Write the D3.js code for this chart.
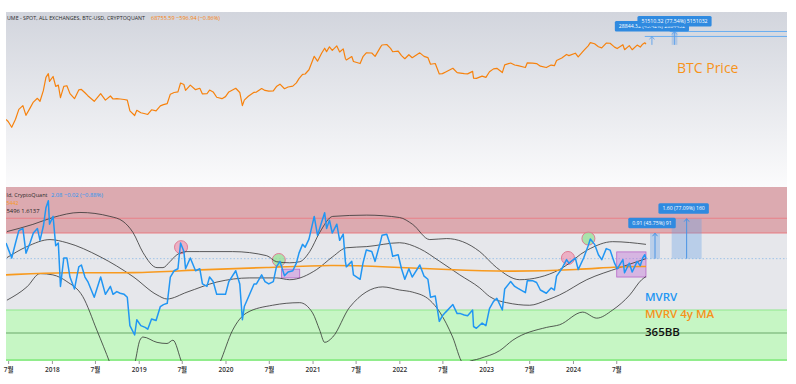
<!DOCTYPE html>
<html>
<head>
<meta charset="utf-8">
<script src="https://cdn.jsdelivr.net/npm/d3@7"></script>
<style>
  body { margin: 0; background: #fff; }
  svg { display: block; font-family: "Open Sans", "Noto Sans CJK KR", sans-serif; }
</style>
</head>
<body>
<div id="chart"></div>
<script>
// ---- data ----
const btcPrice = [
  ["2017-06-22",2700],["2017-07-01",2480],["2017-07-16",1930],["2017-08-01",2730],["2017-08-15",4170],["2017-09-01",4900],["2017-09-14",3230],["2017-10-01",4400],["2017-10-15",5700],["2017-11-01",6700],["2017-11-12",5900],["2017-11-26",9300],["2017-12-07",16500],["2017-12-17",19300],["2017-12-22",13800],
  ["2018-01-06",17100],["2018-01-17",11200],["2018-01-28",11800],["2018-02-06",6900],["2018-02-20",11200],["2018-03-05",11500],["2018-03-18",8200],["2018-04-06",6600],["2018-04-24",9600],["2018-05-05",9800],["2018-05-20",8500],["2018-06-01",7500],["2018-06-28",5900],["2018-07-25",8200],["2018-08-14",6200],["2018-09-04",7400],["2018-09-15",6500],["2018-10-01",6600],["2018-10-15",6500],["2018-11-01",6370],["2018-11-14",6200],["2018-11-25",3900],["2018-12-15",3200],["2018-12-24",4000],
  ["2019-01-10",3600],["2019-01-28",3450],["2019-02-08",3350],["2019-02-24",4100],["2019-03-15",3900],["2019-04-02",4850],["2019-04-15",5100],["2019-05-01",5350],["2019-05-14",8000],["2019-05-30",8600],["2019-06-15",8800],["2019-06-26",12900],["2019-07-10",12100],["2019-07-17",9400],["2019-08-06",11800],["2019-08-28",9700],["2019-09-15",10300],["2019-09-26",8100],["2019-10-15",8150],["2019-10-26",9550],["2019-11-10",8800],["2019-11-25",7000],["2019-12-17",6600],
  ["2020-01-01",7200],["2020-01-15",8800],["2020-02-13",10300],["2020-03-01",8600],["2020-03-12",4900],["2020-03-20",6200],["2020-04-06",7300],["2020-04-30",8650],["2020-05-10",8750],["2020-06-01",10200],["2020-06-15",9400],["2020-07-01",9100],["2020-07-20",9200],["2020-08-02",11100],["2020-08-17",12300],["2020-09-05",10100],["2020-09-20",10900],["2020-10-10",11300],["2020-10-25",13000],["2020-11-05",15600],["2020-11-20",18700],["2020-12-01",19000],["2020-12-17",22800],
  ["2021-01-08",40600],["2021-01-22",33000],["2021-02-08",46200],["2021-02-21",57500],["2021-03-01",49600],["2021-03-13",61200],["2021-03-25",52300],["2021-04-13",63500],["2021-04-25",49000],["2021-05-10",56000],["2021-05-19",37000],["2021-05-23",34700],["2021-06-15",40200],["2021-06-22",32500],["2021-07-20",29800],["2021-08-01",39900],["2021-08-15",47000],["2021-09-07",46800],["2021-09-21",40600],["2021-10-15",61500],["2021-10-20",66000],["2021-11-09",67500],["2021-11-25",57200],["2021-12-04",49400],["2021-12-27",50700],
  ["2022-01-10",41800],["2022-01-24",36600],["2022-02-10",43500],["2022-02-24",38300],["2022-03-28",47100],["2022-04-15",40500],["2022-05-01",38500],["2022-05-12",28900],["2022-06-01",29800],["2022-06-18",19000],["2022-07-01",19300],["2022-07-15",20800],["2022-08-14",24300],["2022-09-01",20100],["2022-09-15",19700],["2022-10-01",19300],["2022-10-15",19100],["2022-11-05",21300],["2022-11-09",15900],["2022-11-21",15800],["2022-12-15",17400],["2022-12-31",16500],
  ["2023-01-15",20900],["2023-02-01",23700],["2023-02-15",24300],["2023-03-10",20200],["2023-03-20",28200],["2023-04-14",30500],["2023-05-01",28000],["2023-05-15",27200],["2023-06-15",25100],["2023-06-23",30700],["2023-07-15",30300],["2023-08-01",29700],["2023-08-17",26600],["2023-09-11",25100],["2023-10-01",27900],["2023-10-15",27200],["2023-10-24",33900],["2023-11-15",37800],["2023-12-05",44000],["2023-12-15",41900],
  ["2024-01-11",46400],["2024-01-23",39500],["2024-02-15",51800],["2024-03-05",63800],["2024-03-14",73100],["2024-04-01",69700],["2024-04-17",61300],["2024-05-01",58300],["2024-05-20",71400],["2024-06-05",71100],["2024-06-24",60300],["2024-07-05",56700],["2024-07-29",66800],["2024-08-05",54000],["2024-08-25",64200],["2024-09-06",53900],["2024-09-27",65800],["2024-10-10",60300],["2024-10-20",68400],["2024-10-29",72700],["2024-11-03",68755.59]
];

const mvrv = [
  ["2017-06-22",2.6],["2017-07-01",2.4],["2017-07-16",2.1],["2017-08-01",2.6],["2017-08-15",3.1],["2017-09-01",3.2],["2017-09-14",2.25],["2017-10-01",2.6],["2017-10-15",3.0],["2017-11-01",3.2],["2017-11-12",2.7],["2017-11-26",3.3],["2017-12-07",4.3],["2017-12-17",4.75],["2017-12-22",3.4],
  ["2018-01-06",3.8],["2018-01-17",2.5],["2018-01-28",2.6],["2018-02-06",1.4],["2018-02-20",2.1],["2018-03-05",2.1],["2018-03-18",1.6],["2018-04-06",1.35],["2018-04-24",1.85],["2018-05-05",1.9],["2018-05-20",1.6],["2018-06-01",1.5],["2018-06-28",1.2],["2018-07-25",1.6],["2018-08-14",1.25],["2018-09-04",1.4],["2018-09-15",1.25],["2018-10-01",1.3],["2018-10-15",1.27],["2018-11-01",1.25],["2018-11-14",1.2],["2018-11-25",0.8],["2018-12-15",0.7],["2018-12-24",0.87],
  ["2019-01-10",0.8],["2019-01-28",0.78],["2019-02-08",0.76],["2019-02-24",0.88],["2019-03-15",0.86],["2019-04-02",1.05],["2019-04-15",1.08],["2019-05-01",1.1],["2019-05-14",1.6],["2019-05-30",1.75],["2019-06-15",1.8],["2019-06-26",2.6],["2019-07-10",2.3],["2019-07-17",1.8],["2019-08-06",2.1],["2019-08-28",1.75],["2019-09-15",1.8],["2019-09-26",1.45],["2019-10-15",1.4],["2019-10-26",1.6],["2019-11-10",1.5],["2019-11-25",1.25],["2019-12-17",1.25],
  ["2020-01-01",1.25],["2020-01-15",1.5],["2020-02-13",1.75],["2020-03-01",1.45],["2020-03-12",0.87],["2020-03-20",1.05],["2020-04-06",1.2],["2020-04-30",1.45],["2020-05-10",1.45],["2020-06-01",1.65],["2020-06-15",1.5],["2020-07-01",1.45],["2020-07-20",1.5],["2020-08-02",1.85],["2020-08-17",2.0],["2020-09-05",1.63],["2020-09-20",1.72],["2020-10-10",1.75],["2020-10-25",1.95],["2020-11-05",2.25],["2020-11-20",2.55],["2020-12-01",2.45],["2020-12-17",2.75],
  ["2021-01-08",3.8],["2021-01-22",2.9],["2021-02-08",3.5],["2021-02-21",4.0],["2021-03-01",3.2],["2021-03-13",3.6],["2021-03-25",3.0],["2021-04-13",3.4],["2021-04-25",2.7],["2021-05-10",2.95],["2021-05-19",2.0],["2021-05-23",1.85],["2021-06-15",2.0],["2021-06-22",1.65],["2021-07-20",1.55],["2021-08-01",1.95],["2021-08-15",2.35],["2021-09-07",2.3],["2021-09-21",2.0],["2021-10-15",2.7],["2021-10-20",2.9],["2021-11-09",2.95],["2021-11-25",2.5],["2021-12-04",2.15],["2021-12-27",2.2],
  ["2022-01-10",1.8],["2022-01-24",1.55],["2022-02-10",1.8],["2022-02-24",1.6],["2022-03-28",1.9],["2022-04-15",1.62],["2022-05-01",1.55],["2022-05-12",1.2],["2022-06-01",1.22],["2022-06-18",0.85],["2022-07-01",0.92],["2022-07-15",0.97],["2022-08-14",1.08],["2022-09-01",0.95],["2022-09-15",0.95],["2022-10-01",0.93],["2022-10-15",0.92],["2022-11-05",1.0],["2022-11-09",0.79],["2022-11-21",0.77],["2022-12-15",0.83],["2022-12-31",0.8],
  ["2023-01-15",1.02],["2023-02-01",1.13],["2023-02-15",1.18],["2023-03-10",1.0],["2023-03-20",1.35],["2023-04-14",1.5],["2023-05-01",1.4],["2023-05-15",1.36],["2023-06-15",1.28],["2023-06-23",1.52],["2023-07-15",1.52],["2023-08-01",1.48],["2023-08-17",1.33],["2023-09-11",1.27],["2023-10-01",1.37],["2023-10-15",1.33],["2023-10-24",1.62],["2023-11-15",1.8],["2023-12-05",2.05],["2023-12-15",1.95],
  ["2024-01-11",2.1],["2024-01-23",1.78],["2024-02-15",2.1],["2024-03-05",2.5],["2024-03-14",2.75],["2024-04-01",2.55],["2024-04-17",2.2],["2024-05-01",2.05],["2024-05-20",2.4],["2024-06-05",2.35],["2024-06-24",1.95],["2024-07-05",1.8],["2024-07-29",2.05],["2024-08-05",1.7],["2024-08-25",1.95],["2024-09-06",1.72],["2024-09-27",2.0],["2024-10-10",1.88],["2024-10-20",2.1],["2024-10-29",2.2],["2024-11-03",2.08]
];

const mvrvMA4y = [
  ["2017-06-22",1.65],["2018-03-05",1.72],["2018-12-08",1.68],["2019-09-15",1.78],["2020-06-22",1.83],["2021-03-27",1.91],["2021-11-10",1.85],["2022-07-19",1.78],["2023-04-23",1.72],["2024-02-11",1.78],["2024-06-16",1.85],["2024-11-03",1.86]
];

const bbUpper = [
  ["2017-06-26",3.06],["2017-10-13",3.39],["2018-01-05",3.74],["2018-04-29",4.02],["2018-09-02",3.80],["2018-10-27",3.54],["2018-12-08",3.02],["2019-01-19",2.27],["2019-03-19",1.83],["2019-04-13",1.83],["2019-05-12",1.99],["2019-06-11",2.20],["2019-07-23",2.30],["2019-09-15",2.30],["2020-01-31",2.30],["2020-06-22",2.17],["2020-08-03",1.99],["2020-09-27",1.96],["2020-11-08",1.99],["2020-12-20",2.30],["2021-01-31",3.02],["2021-03-27",3.80],["2021-08-17",3.87],["2022-01-02",3.74],["2022-02-26",3.39],["2022-05-09",2.73],["2022-07-19",2.77],["2022-09-24",2.65],["2022-12-05",2.30],["2023-02-14",1.83],["2023-05-22",1.54],["2023-11-06",1.78],["2024-03-03",2.36],["2024-06-16",2.65],["2024-11-03",2.55]
];
const bbBasis = [
  ["2017-06-26",2.11],["2017-09-18",2.47],["2017-12-24",2.73],["2018-03-05",2.61],["2018-07-22",2.14],["2018-12-08",1.61],["2019-03-19",1.24],["2019-04-30",1.17],["2019-07-23",1.29],["2019-11-26",1.49],["2020-04-12",1.58],["2020-08-03",1.58],["2020-09-27",1.54],["2021-01-18",1.78],["2021-03-27",2.14],["2021-05-24",2.43],["2021-08-17",2.47],["2022-01-02",2.61],["2022-03-27",2.40],["2022-06-20",2.00],["2022-09-12",1.65],["2022-12-05",1.37],["2023-01-16",1.21],["2023-03-28",1.11],["2023-07-03",1.07],["2023-09-12",1.15],["2023-11-06",1.24],["2024-02-28",1.54],["2024-07-15",1.83],["2024-11-03",2.08]
];
const bbLower = [
  ["2017-06-26",1.15],["2017-09-18",1.39],["2017-11-12",1.68],["2018-01-05",1.65],["2018-03-05",1.50],["2018-05-11",1.21],["2018-07-09",0.75],["2018-09-02",0.47],["2018-10-20",0.30],["2018-12-16",0.47],["2019-01-06",0.65],["2019-01-19",0.68],["2019-03-19",0.63],["2019-04-30",0.62],["2019-05-25",0.65],["2019-07-02",0.47],["2019-10-01",0.30],["2019-12-08",0.47],["2020-01-31",0.75],["2020-03-30",0.96],["2020-07-17",1.07],["2020-11-08",1.11],["2021-01-01",0.96],["2021-01-31",0.75],["2021-02-21",0.63],["2021-03-27",0.68],["2021-06-06",1.04],["2021-10-23",1.39],["2022-01-02",1.33],["2022-02-26",1.29],["2022-05-09",1.15],["2022-06-20",0.97],["2022-08-13",0.68],["2022-09-24",0.47],["2022-10-05",0.46],["2022-10-11",0.47],["2022-12-05",0.50],["2023-02-27",0.56],["2023-04-23",0.65],["2023-09-12",0.78],["2023-11-06",0.81],["2024-02-11",0.97],["2024-04-10",0.89],["2024-06-16",1.00],["2024-08-27",1.24],["2024-10-16",1.54],["2024-11-03",1.61]
];

// zone levels on the MVRV pane
const redZone = [3.0, 5.78];
const redLine = 3.7;
const greenZone = [0.483, 1.0];
const greenLine = 0.72;
const lastMvrv = 2.08;

// marked spots
const circleMarks = [
  { date: "2019-06-28", value: 2.45, kind: "red" },
  { date: "2020-08-12", value: 2.04, kind: "green" },
  { date: "2023-12-11", value: 2.10, kind: "red" },
  { date: "2024-03-06", value: 2.77, kind: "green" }
];
const boxMarks = [
  { from: "2020-08-23", to: "2020-11-08", lo: 1.58, hi: 1.79 },
  { from: "2024-07-03", to: "2024-11-03", lo: 1.60, hi: 2.29 }
];

// projected ranges
const mvrvRanges = [
  { from: "2024-11-20", to: "2025-01-01", base: 2.08, top: 2.99, label: "0.91 (43.75%) 91" },
  { from: "2025-02-19", to: "2025-06-25", base: 2.08, top: 3.68, label: "1.60 (77.09%) 160" }
];
const priceRanges = [
  { from: "2024-11-27", to: "2024-11-29", base: 66431, top: 95275, lineFrom: "2024-10-29", label: "28844.32 (43.42%) 2884432" },
  { from: "2025-02-19", to: "2025-03-15", base: 66431, top: 117941, lineFrom: "2025-02-11", label: "51510.32 (77.54%) 5151032" }
];

const tickDates = ["2017-07-01","2018-01-01","2018-07-01","2019-01-01","2019-07-01","2020-01-01","2020-07-01","2021-01-01","2021-07-01","2022-01-01","2022-07-01","2023-01-01","2023-07-01","2024-01-01","2024-07-01"];

// ---- chart ----
const W = 796, H = 384;
const left = 6, right = 787;
const top1 = 12, bot1 = 187, top2 = 187, bot2 = 361;

const parse = d3.timeParse("%Y-%m-%d");
const pts = arr => arr.map(([d, v]) => ({ date: parse(d), value: v }));

const x = d3.scaleTime()
  .domain([parse("2017-06-22"), parse("2026-06-19")])
  .range([left, right]);
const yP = d3.scaleLog().domain([149, 272000]).range([bot1, top1]);
const yM = d3.scaleLog().domain([0.483, 5.78]).range([bot2, top2]);

const svg = d3.select("#chart").append("svg")
  .attr("width", W).attr("height", H);

const defs = svg.append("defs");
const grad = defs.append("linearGradient").attr("id", "bgTop")
  .attr("x1", 0).attr("y1", 0).attr("x2", 0).attr("y2", 1);
grad.append("stop").attr("offset", "0%").attr("stop-color", "#d2d5dd");
grad.append("stop").attr("offset", "100%").attr("stop-color", "#fbfbfc");
defs.append("clipPath").attr("id", "clipTop").append("rect")
  .attr("x", left).attr("y", top1).attr("width", right - left).attr("height", bot1 - top1);
defs.append("clipPath").attr("id", "clipBot").append("rect")
  .attr("x", left).attr("y", top2).attr("width", right - left).attr("height", bot2 - top2);

// top pane background
svg.append("rect").attr("x", left).attr("y", top1)
  .attr("width", right - left).attr("height", bot1 - top1)
  .attr("fill", "url(#bgTop)");

// bottom pane zones
const gB = svg.append("g").attr("clip-path", "url(#clipBot)");
gB.append("rect").attr("x", left).attr("width", right - left)
  .attr("y", yM(redZone[0])).attr("height", yM(greenZone[1]) - yM(redZone[0]))
  .attr("fill", "#e6e7eb");
gB.append("rect").attr("x", left).attr("width", right - left)
  .attr("y", yM(redZone[1])).attr("height", yM(redZone[0]) - yM(redZone[1]))
  .attr("fill", "#dcaab0");
gB.append("rect").attr("x", left).attr("width", right - left)
  .attr("y", yM(greenZone[1])).attr("height", yM(greenZone[0]) - yM(greenZone[1]))
  .attr("fill", "#c6f6c4");

const hline = (g, v, color, w) => g.append("line")
  .attr("x1", left).attr("x2", right).attr("y1", yM(v)).attr("y2", yM(v))
  .attr("stroke", color).attr("stroke-width", w);
hline(gB, redLine, "#e88088", 1.2);
hline(gB, redZone[0], "#e87a80", 1);
hline(gB, greenZone[1], "#8fe88c", 1.2);
hline(gB, greenLine, "#6aa86a", 1);
gB.append("line").attr("x1", left).attr("x2", right)
  .attr("y1", bot2 - 1).attr("y2", bot2 - 1)
  .attr("stroke", "#7fe87a").attr("stroke-width", 1.5);

// last value dotted line
gB.append("line").attr("x1", left).attr("x2", right)
  .attr("y1", yM(lastMvrv)).attr("y2", yM(lastMvrv))
  .attr("stroke", "#8fbce8").attr("stroke-width", 0.8).attr("stroke-dasharray", "1.5,2");

// boxes and circles
boxMarks.forEach(b => {
  gB.append("rect")
    .attr("x", x(parse(b.from))).attr("width", x(parse(b.to)) - x(parse(b.from)))
    .attr("y", yM(b.hi)).attr("height", yM(b.lo) - yM(b.hi))
    .attr("fill", "rgba(196,120,214,0.45)").attr("stroke", "#b868c8").attr("stroke-width", 0.8);
});
circleMarks.forEach(c => {
  gB.append("circle")
    .attr("cx", x(parse(c.date))).attr("cy", yM(c.value)).attr("r", 6.5)
    .attr("fill", c.kind === "red" ? "rgba(240,140,170,0.6)" : "rgba(150,226,150,0.75)")
    .attr("stroke", "#e07c95").attr("stroke-width", 1);
});

// projected MVRV ranges
mvrvRanges.forEach(r => {
  const x0 = x(parse(r.from)), x1 = x(parse(r.to)), xc = (x0 + x1) / 2;
  gB.append("rect").attr("x", x0).attr("width", x1 - x0)
    .attr("y", yM(r.top)).attr("height", yM(r.base) - yM(r.top))
    .attr("fill", "rgba(100,160,230,0.35)");
  gB.append("line").attr("x1", xc).attr("x2", xc)
    .attr("y1", yM(r.base)).attr("y2", yM(r.top))
    .attr("stroke", "#4b94e4").attr("stroke-width", 1);
  gB.append("path")
    .attr("d", `M${xc - 2.5},${yM(r.top) + 3}L${xc},${yM(r.top)}L${xc + 2.5},${yM(r.top) + 3}`)
    .attr("fill", "none").attr("stroke", "#4b94e4").attr("stroke-width", 1);
});

// lines in the MVRV pane
const lineM = d3.line().x(d => x(d.date)).y(d => yM(d.value));
const smoothM = d3.line().x(d => x(d.date)).y(d => yM(d.value)).curve(d3.curveMonotoneX);
[bbUpper, bbBasis, bbLower].forEach(s => {
  gB.append("path").datum(pts(s)).attr("d", smoothM)
    .attr("fill", "none").attr("stroke", "#333").attr("stroke-width", 0.8);
});
gB.append("path").datum(pts(mvrvMA4y)).attr("d", d3.line().x(d => x(d.date)).y(d => yM(d.value)).curve(d3.curveBasis))
  .attr("fill", "none").attr("stroke", "#f89a1e").attr("stroke-width", 1.6);
gB.append("path").datum(pts(mvrv)).attr("d", lineM)
  .attr("fill", "none").attr("stroke", "#2196f3").attr("stroke-width", 1.5)
  .attr("stroke-linejoin", "round");

// top pane: price
const gT = svg.append("g").attr("clip-path", "url(#clipTop)");
priceRanges.forEach(r => {
  const x0 = x(parse(r.from)), x1 = x(parse(r.to)), xc = (x0 + x1) / 2;
  gT.append("line").attr("x1", x(parse(r.lineFrom))).attr("x2", right)
    .attr("y1", yP(r.top)).attr("y2", yP(r.top))
    .attr("stroke", "#6aaef0").attr("stroke-width", 1);
  gT.append("rect").attr("x", x0).attr("width", x1 - x0)
    .attr("y", yP(r.top)).attr("height", yP(r.base) - yP(r.top))
    .attr("fill", "rgba(100,160,230,0.35)");
  gT.append("line").attr("x1", xc).attr("x2", xc)
    .attr("y1", yP(r.base)).attr("y2", yP(r.top))
    .attr("stroke", "#5aa0ec").attr("stroke-width", 0.8);
  gT.append("path")
    .attr("d", `M${xc - 2.5},${yP(r.top) + 3}L${xc},${yP(r.top)}L${xc + 2.5},${yP(r.top) + 3}`)
    .attr("fill", "none").attr("stroke", "#5aa0ec").attr("stroke-width", 0.8);
});
gT.append("path").datum(pts(btcPrice))
  .attr("d", d3.line().x(d => x(d.date)).y(d => yP(d.value)))
  .attr("fill", "none").attr("stroke", "#f7820d").attr("stroke-width", 1.2)
  .attr("stroke-linejoin", "round");

// range labels (the two price labels overlap, as in the original)
function rangeLabel(xc, yBottom, text) {
  const g = svg.append("g");
  const t = g.append("text").attr("x", xc).attr("y", yBottom - 3.3)
    .attr("text-anchor", "middle").attr("font-size", 5.2).attr("fill", "#fff")
    .text(text);
  const w = t.node().getComputedTextLength() + 8;
  g.insert("rect", "text").attr("x", xc - w / 2).attr("y", yBottom - 10.5)
    .attr("width", w).attr("height", 10.5).attr("rx", 1.5).attr("fill", "#2f8ae0");
}
priceRanges.forEach(r => {
  const xc = (x(parse(r.from)) + x(parse(r.to))) / 2;
  rangeLabel(xc, yP(r.top) - 5, r.label);
});
mvrvRanges.forEach(r => {
  const xc = (x(parse(r.from)) + x(parse(r.to))) / 2;
  rangeLabel(xc - 3, yM(r.top) - 5, r.label);
});

// headers
const hdr = (xx, yy, txt, col, len) => svg.append("text").attr("x", xx).attr("y", yy)
  .attr("font-size", 5.8).attr("fill", col).attr("textLength", len)
  .attr("lengthAdjust", "spacingAndGlyphs").text(txt);
hdr(7, 20, "UME - SPOT, ALL EXCHANGES, BTC-USD, CRYPTOQUANT", "#2a2a2a", 138);
hdr(151, 20, "68755.59  −596.94 (−0.86%)", "#f7820d", 69);
hdr(6.5, 196.5, "ld, CryptoQuant", "#2a2a2a", 41);
hdr(51, 196.5, "2.08  −0.02 (−0.88%)", "#2196f3", 52);
hdr(6.5, 204.5, "5442", "#f89a1e", 12);
hdr(6.5, 212.5, "5496  1.6137", "#222", 33);

// series labels
svg.append("text").attr("x", 677).attr("y", 73).attr("font-size", 14)
  .attr("fill", "#f7931a").text("BTC Price");
const lbl = (yy, txt, col) => svg.append("text").attr("x", 645).attr("y", yy)
  .attr("font-size", 11.5).attr("font-weight", 600).attr("fill", col).text(txt);
lbl(301, "MVRV", "#2196f3");
lbl(318, "MVRV 4y MA", "#f7931a");
lbl(336, "365BB", "#111");

// time axis
const axis = d3.axisBottom(x)
  .tickValues(tickDates.map(parse))
  .tickSize(3)
  .tickFormat(d => d.getMonth() === 0 ? d.getFullYear() : "7월");
const gA = svg.append("g").attr("transform", `translate(0,${bot2})`).call(axis);
gA.select(".domain").remove();
gA.selectAll(".tick line").attr("stroke", "#999");
gA.selectAll(".tick text").attr("font-size", 6.5).attr("font-weight", 600)
  .attr("fill", "#333").attr("font-family", "'Open Sans','Noto Sans CJK KR',sans-serif");
</script>
</body>
</html>
